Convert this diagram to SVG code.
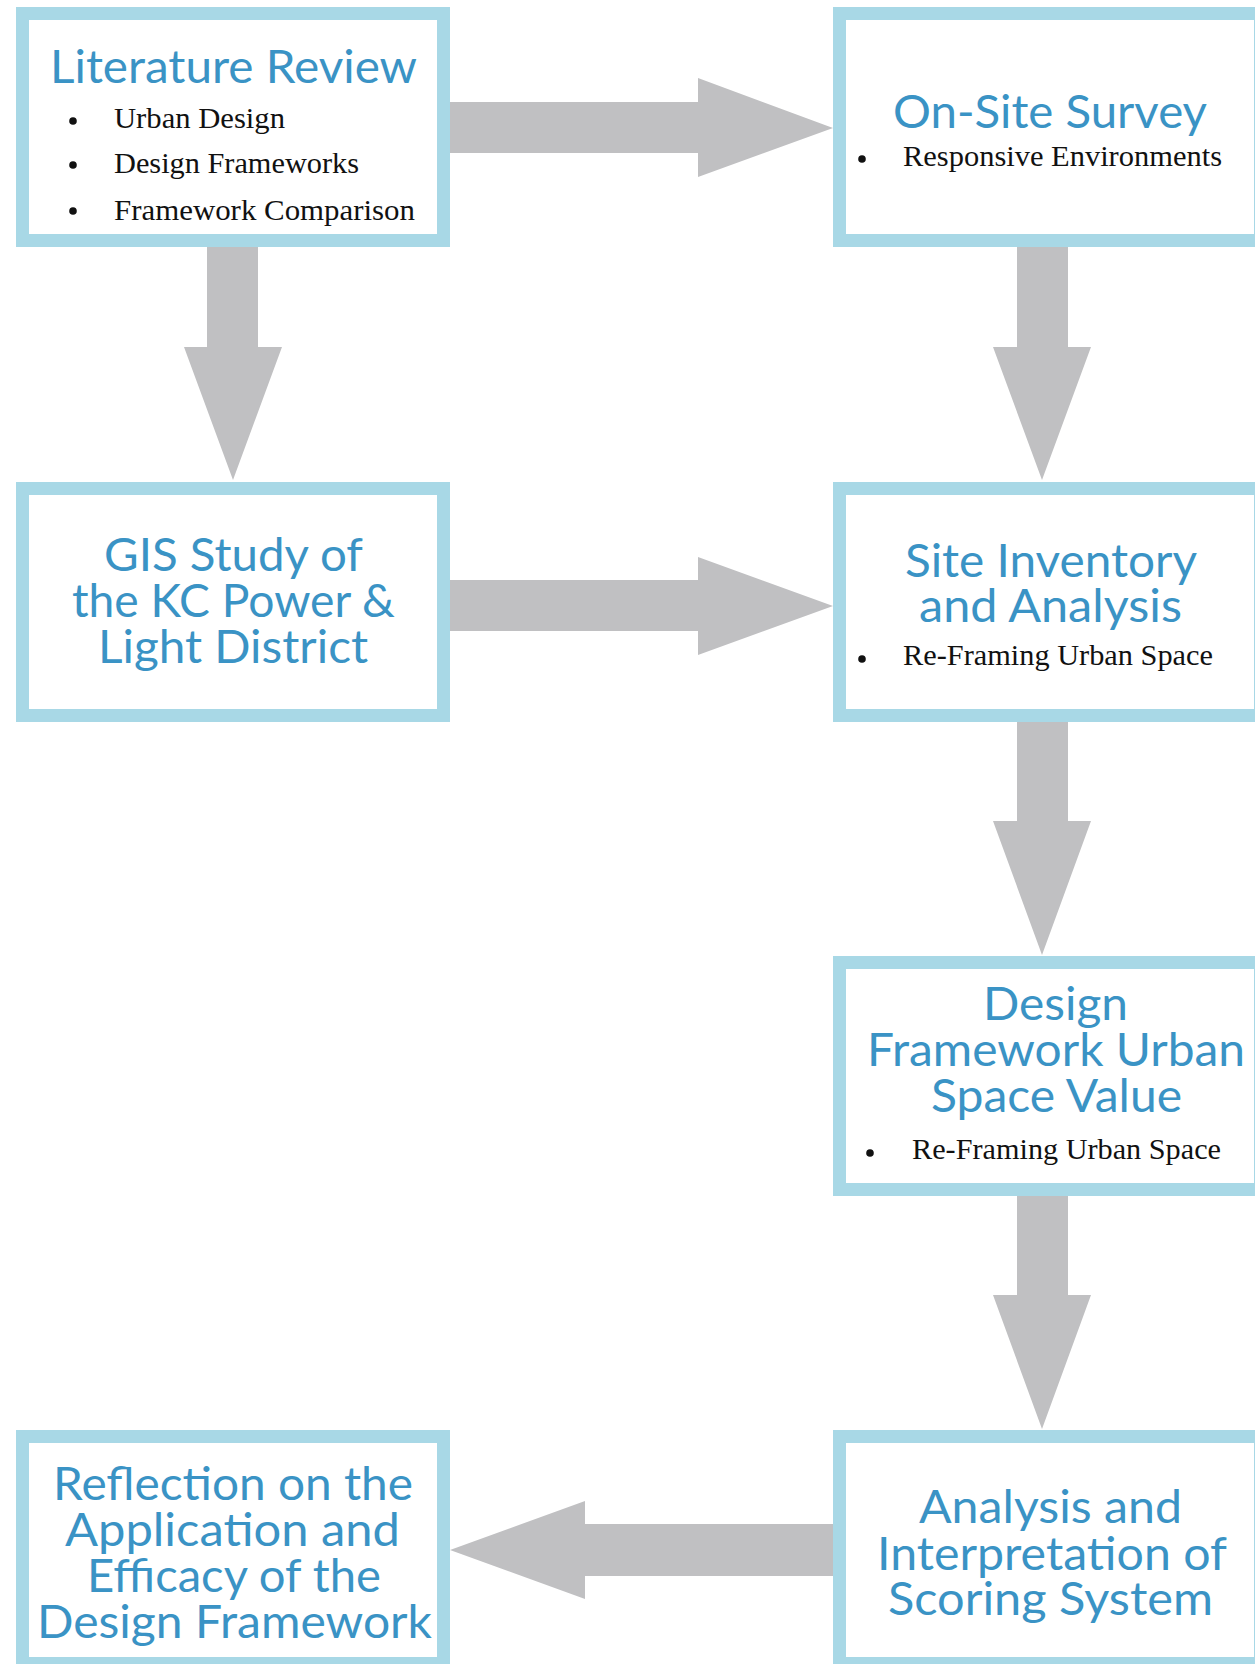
<svg xmlns="http://www.w3.org/2000/svg" width="1255" height="1664" viewBox="0 0 1255 1664">
<style>
.box{fill:#ffffff;stroke:#a8d8e6;stroke-width:13}
.arrow{fill:#c0c0c2}
.title{font-family:Lato,"Open Sans","Liberation Sans",sans-serif;font-size:46px;fill:#3a93c5}
.item{font-family:"Liberation Serif","DejaVu Serif",serif;font-size:30px;fill:#111111}
.dot{fill:#111111}
</style>
<rect x="0" y="0" width="1255" height="1664" fill="#ffffff"/>
<g id="connectors">
<polygon class="arrow" points="450,102 698,102 698,78 833,128 698,177 698,153 450,153"/>
<polygon class="arrow" points="450,580 698,580 698,557 833,606 698,655 698,631 450,631"/>
<polygon class="arrow" points="207,247 258,247 258,347 282,347 233,480 184,347 207,347"/>
<polygon class="arrow" points="1017,247 1068,247 1068,347 1091,347 1042,480 993,347 1017,347"/>
<polygon class="arrow" points="1017,722 1068,722 1068,821 1091,821 1042,955 993,821 1017,821"/>
<polygon class="arrow" points="1017,1196 1068,1196 1068,1295 1091,1295 1042,1429 993,1295 1017,1295"/>
<polygon class="arrow" points="833,1524 585,1524 585,1501 450,1550 585,1599 585,1576 833,1576"/>
</g>
<g id="literature-review">
<rect class="box" x="22.5" y="13.5" width="421" height="227"/>
<text class="title" x="50" y="83" textLength="367" lengthAdjust="spacingAndGlyphs">Literature Review</text>
<circle class="dot" cx="73" cy="121" r="3.8"/>
<text class="item" x="114" y="128" textLength="171" lengthAdjust="spacingAndGlyphs">Urban Design</text>
<circle class="dot" cx="73" cy="165" r="3.8"/>
<text class="item" x="114" y="173" textLength="245" lengthAdjust="spacingAndGlyphs">Design Frameworks</text>
<circle class="dot" cx="73" cy="211" r="3.8"/>
<text class="item" x="114" y="220" textLength="301" lengthAdjust="spacingAndGlyphs">Framework Comparison</text>
</g>
<g id="on-site-survey">
<rect class="box" x="839.5" y="13.5" width="421" height="227"/>
<text class="title" x="893" y="128" textLength="314" lengthAdjust="spacingAndGlyphs">On-Site Survey</text>
<circle class="dot" cx="862" cy="159" r="3.8"/>
<text class="item" x="903" y="166" textLength="319" lengthAdjust="spacingAndGlyphs">Responsive Environments</text>
</g>
<g id="gis-study">
<rect class="box" x="22.5" y="488.5" width="421" height="227"/>
<text class="title" x="104" y="571" textLength="259" lengthAdjust="spacingAndGlyphs">GIS Study of</text>
<text class="title" x="72" y="617" textLength="323" lengthAdjust="spacingAndGlyphs">the KC Power &amp;</text>
<text class="title" x="98" y="663" textLength="270" lengthAdjust="spacingAndGlyphs">Light District</text>
</g>
<g id="site-inventory">
<rect class="box" x="839.5" y="488.5" width="421" height="227"/>
<text class="title" x="905" y="577" textLength="292" lengthAdjust="spacingAndGlyphs">Site Inventory</text>
<text class="title" x="919" y="622" textLength="263" lengthAdjust="spacingAndGlyphs">and Analysis</text>
<circle class="dot" cx="862" cy="659" r="3.8"/>
<text class="item" x="903" y="665" textLength="310" lengthAdjust="spacingAndGlyphs">Re-Framing Urban Space</text>
</g>
<g id="design-framework">
<rect class="box" x="839.5" y="962.5" width="421" height="227"/>
<text class="title" x="983" y="1020" textLength="145" lengthAdjust="spacingAndGlyphs">Design</text>
<text class="title" x="867" y="1066" textLength="378" lengthAdjust="spacingAndGlyphs">Framework Urban</text>
<text class="title" x="931" y="1112" textLength="251" lengthAdjust="spacingAndGlyphs">Space Value</text>
<circle class="dot" cx="870" cy="1153" r="3.8"/>
<text class="item" x="912" y="1159" textLength="309" lengthAdjust="spacingAndGlyphs">Re-Framing Urban Space</text>
</g>
<g id="reflection">
<rect class="box" x="22.5" y="1436.5" width="421" height="227"/>
<text class="title" x="53" y="1500" textLength="360" lengthAdjust="spacingAndGlyphs">Reflection on the</text>
<text class="title" x="65" y="1546" textLength="335" lengthAdjust="spacingAndGlyphs">Application and</text>
<text class="title" x="87" y="1592" textLength="294" lengthAdjust="spacingAndGlyphs">Efficacy of the</text>
<text class="title" x="37" y="1638" textLength="395" lengthAdjust="spacingAndGlyphs">Design Framework</text>
</g>
<g id="analysis">
<rect class="box" x="839.5" y="1436.5" width="421" height="227"/>
<text class="title" x="919" y="1523" textLength="263" lengthAdjust="spacingAndGlyphs">Analysis and</text>
<text class="title" x="877" y="1570" textLength="350" lengthAdjust="spacingAndGlyphs">Interpretation of</text>
<text class="title" x="888" y="1615" textLength="325" lengthAdjust="spacingAndGlyphs">Scoring System</text>
</g>
</svg>
